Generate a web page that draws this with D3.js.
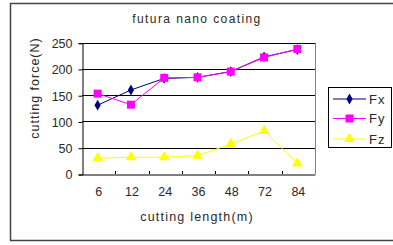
<!DOCTYPE html>
<html><head><meta charset="utf-8">
<script src="https://cdn.jsdelivr.net/npm/d3@7"></script>
<style>body{margin:0;background:#fff;} text{font-family:"Liberation Sans",Arial,sans-serif;fill:#2a2a2a;}</style>
</head><body><svg id="c" width="393" height="245"></svg>
<script>
const categories = ["6","12","24","36","48","72","84"];
const fx = [131,160,182,184,195,223,237];
const fy = [153,132,183,184,195,222,238];
const fz = [30,32,32,35,57,82,20];
const yTicks = [0,50,100,150,200,250];
const seriesNames = ["Fx","Fy","Fz"];
const title = "futura nano coating";
const yTitle = "cutting force(N)";
const xTitle = "cutting length(m)";

const svg = d3.select("#c");
// outer border
svg.append("rect").attr("x",10.5).attr("y",3.5).attr("width",400).attr("height",237)
  .attr("fill","#fff").attr("stroke","#444").attr("stroke-width",1.5);

const L=82, R=315, T=42.7, B=174;
const x = d3.scaleBand().domain(categories).range([L,R]);
const y = d3.scaleLinear().domain([0,250]).range([B,T]);

// gridlines
svg.append("g").selectAll("line").data(yTicks.filter(d=>d>0)).join("line")
  .attr("x1",L).attr("x2",R).attr("y1",d=>Math.round(y(d))+0.5).attr("y2",d=>Math.round(y(d))+0.5)
  .attr("stroke","#000").attr("stroke-width",1);
// right border
svg.append("line").attr("x1",R+0.5).attr("x2",R+0.5).attr("y1",T).attr("y2",B).attr("stroke","#808080");

// y axis
const ya = svg.append("g").attr("transform",`translate(${L+0.5},0.5)`)
  .call(d3.axisLeft(y).tickValues(yTicks).tickSize(4).tickPadding(6));
ya.select(".domain").attr("stroke","#000");
ya.selectAll("text").style("font-size","12.5px").attr("fill","#2a2a2a").attr("font-family","'Liberation Sans',Arial,sans-serif").attr("dy","0.35em");

// x axis
const xa = svg.append("g").attr("transform",`translate(0,${B+0.5})`)
  .call(d3.axisBottom(x).tickSize(0).tickPadding(13));
xa.select(".domain").attr("stroke","#000");
xa.selectAll("text").style("font-size","12.5px").attr("fill","#2a2a2a").attr("font-family","'Liberation Sans',Arial,sans-serif");
// inward ticks at band boundaries
svg.append("g").selectAll("line").data(categories.slice(1)).join("line")
  .attr("x1",d=>Math.round(x(d))+0.5).attr("x2",d=>Math.round(x(d))+0.5)
  .attr("y1",B).attr("y2",B-3).attr("stroke","#000");

const cx = d => x(d)+x.bandwidth()/2 - 1;
const line = d3.line().x((d,i)=>cx(categories[i])).y(d=>y(d));
const series = [
  {name:seriesNames[0], vals:fx, color:"#000080", sym:d3.symbolDiamond, size:34},
  {name:seriesNames[1], vals:fy, color:"#FF00FF", sym:d3.symbolSquare, size:64},
  {name:seriesNames[2], vals:fz, color:"#FFFF00", sym:d3.symbolTriangle, size:50}
];
[series[2],series[0],series[1]].forEach(s=>{
  svg.append("path").attr("d",line(s.vals)).attr("fill","none").attr("stroke",s.color).attr("stroke-width",1);
  svg.append("g").selectAll("path").data(s.vals).join("path")
    .attr("d",d3.symbol().type(s.sym).size(s.size))
    .attr("transform",(d,i)=>`translate(${cx(categories[i])},${y(d)})`)
    .attr("fill",s.color);
});

// titles
svg.append("text").attr("x",197).attr("y",23).attr("text-anchor","middle")
  .style("font-size","12px").style("letter-spacing","1.4px").text(title);
svg.append("text").attr("transform","translate(39,88) rotate(-90)").attr("text-anchor","middle")
  .style("font-size","12.5px").style("letter-spacing","1px").text(yTitle);
svg.append("text").attr("x",197).attr("y",221).attr("text-anchor","middle")
  .style("font-size","12.5px").style("letter-spacing","1.2px").text(xTitle);

// legend
svg.append("rect").attr("x",328.5).attr("y",87.5).attr("width",63).attr("height",60)
  .attr("fill","#fff").attr("stroke","#000");
const ly = [99,118.5,139];
series.forEach((s,i)=>{
  svg.append("line").attr("x1",333).attr("x2",366).attr("y1",ly[i]).attr("y2",ly[i]).attr("stroke",s.color);
  svg.append("path").attr("d",d3.symbol().type(s.sym).size(s.size)).attr("transform",`translate(349.5,${ly[i]})`).attr("fill",s.color);
  svg.append("text").attr("x",369).attr("y",ly[i]).attr("dy","0.36em").style("font-size","13px").style("letter-spacing","1px").text(s.name);
});
</script></body></html>
